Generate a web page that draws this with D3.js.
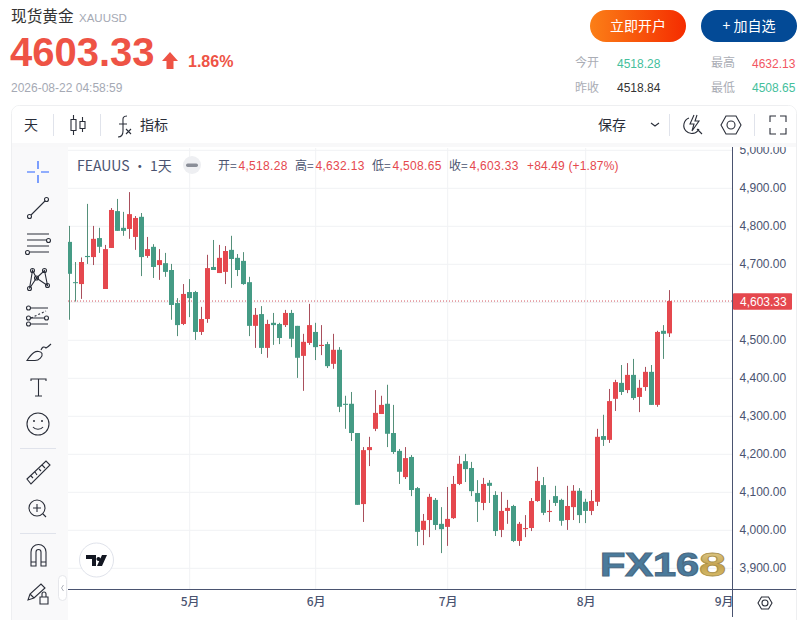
<!DOCTYPE html>
<html>
<head>
<meta charset="utf-8">
<script src="https://cdn.jsdelivr.net/npm/d3@7"></script>
<style>
  html, body { margin: 0; padding: 0; background: #fff; }
  svg { display: block; }
  text { font-family: "Liberation Sans", "Noto Sans CJK SC", sans-serif; }
  .cjk { font-family: "Noto Sans CJK SC", sans-serif; }
  .icon { fill: none; stroke: #2a2e39; stroke-width: 1.1; }
</style>
</head>
<body>
<script>
// daily candles
var opens = [4759,4653,4648,4722,4719,4769,4635,4743,4840,4796,4793,4772,4825,4722,4746,4698,4703,4685,4598,4543,
  4627,4627,4522,4556,4693,4677,4680,4738,4717,4709,4653,4538,4569,4480,4546,4543,4540,4572,4538,4459,
  4493,4522,4485,4490,4438,4475,4333,4333,4256,4069,4211,4267,4306,4333,4256,4209,4140,4193,4111,4001,
  4027,4080,4017,4009,4032,4122,4182,4164,4098,4072,4125,4093,4001,4051,4064,3972,4003,4006,4077,4119,
  4048,4090,4080,4027,4061,4104,4075,4051,4075,4248,4238,4346,4388,4369,4409,4351,4377,4417,4330,4525,4518.28];
var highs = [4801,4706,4718,4859,4801,4796,4751,4848,4872,4838,4890,4827,4835,4772,4753,4740,4730,4701,4611,4648,
  4661,4630,4588,4725,4764,4751,4748,4775,4727,4732,4667,4585,4590,4554,4572,4546,4580,4580,4538,4517,
  4596,4546,4540,4496,4517,4482,4354,4364,4256,4219,4246,4369,4354,4383,4330,4214,4219,4198,4114,4043,
  4096,4085,4061,4114,4143,4196,4201,4180,4132,4138,4132,4103,4101,4080,4067,4022,4040,4085,4167,4140,
  4080,4117,4083,4117,4119,4111,4083,4106,4267,4304,4372,4396,4435,4440,4451,4396,4430,4435,4525,4540,4632.13];
var lows = [4554,4602,4609,4701,4698,4730,4635,4743,4788,4775,4767,4738,4669,4717,4664,4659,4667,4554,4511,4540,
  4561,4501,4514,4546,4685,4677,4648,4638,4669,4646,4511,4480,4464,4454,4488,4490,4535,4482,4401,4367,
  4488,4448,4461,4427,4425,4311,4267,4235,4067,4022,4169,4261,4306,4219,4201,4122,4135,4090,3959,3961,
  3982,4001,3940,3959,4030,4119,4127,4090,4022,4053,4072,3985,3982,4017,3969,3959,3982,3998,4075,4040,
  4022,4064,4012,4001,4027,4019,4019,4040,4064,4222,4230,4314,4356,4361,4343,4311,4367,4330,4325,4451,4508.65];
var closes = [4675,4652,4706,4719,4767,4746,4740,4843,4788,4788,4832,4822,4719,4740,4693,4711,4680,4593,4540,4622,
  4611,4522,4556,4690,4685,4717,4735,4714,4685,4648,4538,4567,4480,4543,4540,4506,4572,4504,4454,4496,
  4540,4482,4488,4432,4475,4325,4330,4256,4067,4211,4219,4309,4330,4254,4206,4154,4190,4106,3996,4025,
  4088,4014,4003,4030,4122,4175,4161,4103,4075,4122,4117,3998,4051,4059,3972,4017,4006,4077,4130,4046,
  4051,4072,4025,4064,4104,4040,4051,4077,4246,4238,4340,4390,4364,4409,4348,4375,4417,4330,4522,4517,4603.33];

var priceTicks = [3900,4000,4100,4200,4300,4400,4500,4600,4700,4800,4900,5000];
var monthPos = [20,41,63,86,109];
var monthLabels = ["5月","6月","7月","8月","9月"];
var lastPrice = 4603.33;

var upBody = "#e5484e", downBody = "#459b85", upWick = "#a94f5c", downWick = "#55907a";
var axisInk = "#4a5370", gridInk = "#f1f2f4";

var svg = d3.select("body").append("svg").attr("width", 807).attr("height", 620);
var defs = svg.append("defs");

var x = d3.scaleLinear().domain([0, 100]).range([69.7, 669.7]);
var y = d3.scaleLinear().domain([4500, 5000]).range([340.3, 150.3]);

function label(g, txt, px, py, size, fill, cls, anchor) {
  return g.append("text").attr("x", px).attr("y", py).attr("font-size", size).attr("fill", fill)
    .attr("class", cls || null).attr("text-anchor", anchor || "start").text(txt);
}

// page header
var head = svg.append("g");
label(head, "现货黄金", 11, 22, 15.7, "#333", "cjk");
label(head, "XAUUSD", 79, 22, 11.5, "#a5a9b4");
label(head, "4603.33", 10, 66, 40, "#ee5345").attr("font-weight", "bold");
head.append("path").attr("d", "M170 52 L178 61 L173.5 61 L173.5 69 L166.5 69 L166.5 61 L162 61 Z").attr("fill", "#ee5345");
label(head, "1.86%", 188, 67, 16, "#ee5345").attr("font-weight", "bold");
label(head, "2026-08-22 04:58:59", 11, 92, 12, "#a5a9b4");

var grad = defs.append("linearGradient").attr("id", "openBtn");
grad.append("stop").attr("offset", "0").attr("stop-color", "#fb7f17");
grad.append("stop").attr("offset", "1").attr("stop-color", "#f52c00");
head.append("rect").attr("x", 590).attr("y", 10).attr("width", 96).attr("height", 32).attr("rx", 16).attr("fill", "url(#openBtn)");
head.append("rect").attr("x", 701).attr("y", 10).attr("width", 96).attr("height", 32).attr("rx", 16).attr("fill", "#034a96");
label(head, "立即开户", 638, 31, 14, "#fff", "cjk", "middle");
label(head, "+ 加自选", 749, 31, 14, "#fff", "cjk", "middle");

label(head, "今开", 575, 67, 12, "#aaadb5", "cjk");
label(head, "昨收", 575, 92, 12, "#aaadb5", "cjk");
label(head, "最高", 711, 67, 12, "#aaadb5", "cjk");
label(head, "最低", 711, 92, 12, "#aaadb5", "cjk");
label(head, "4518.28", 617, 68, 12, "#45c09c");
label(head, "4518.84", 617, 92, 12, "#333");
label(head, "4632.13", 752, 68, 12, "#f25561");
label(head, "4508.65", 752, 92, 12, "#45c09c");

// card
svg.append("rect").attr("x", 11.5).attr("y", 105.5).attr("width", 785).attr("height", 530)
  .attr("rx", 8).attr("fill", "#fff").attr("stroke", "#eeeff1");

// grid
var grid = svg.append("g");
grid.selectAll(".h").data(priceTicks).join("line").attr("class", "h")
  .attr("x1", 68).attr("x2", 732).attr("y1", function(d){ return y(d); }).attr("y2", function(d){ return y(d); })
  .attr("stroke", gridInk);
grid.selectAll(".v").data(monthPos.slice(0, 4)).join("line").attr("class", "v")
  .attr("x1", function(d){ return x(d); }).attr("x2", function(d){ return x(d); })
  .attr("y1", 148).attr("y2", 589).attr("stroke", gridInk);

// watermark sits under the candles
var wm = defs.append("linearGradient").attr("id", "gold").attr("x1", 0).attr("y1", 0).attr("x2", 0).attr("y2", 1);
wm.append("stop").attr("offset", "0").attr("stop-color", "#e8d9a0");
wm.append("stop").attr("offset", "0.55").attr("stop-color", "#c4a24e");
wm.append("stop").attr("offset", "1").attr("stop-color", "#e0c878");
var mark = svg.append("g").attr("font-weight", "bold").attr("font-size", 34);
mark.append("text").attr("x", 600).attr("y", 576).attr("textLength", 99).attr("lengthAdjust", "spacingAndGlyphs")
  .attr("fill", "#4a7b9c").attr("stroke", "#4a6a84").attr("stroke-width", 1.2).style("font-family", "'Liberation Sans'").text("FX16");
mark.append("text").attr("x", 699).attr("y", 576).attr("textLength", 27).attr("lengthAdjust", "spacingAndGlyphs")
  .attr("fill", "url(#gold)").attr("stroke", "#a98f4a").attr("stroke-width", 0.8).style("font-family", "'Liberation Sans'").text("8");

// last price line
svg.append("line").attr("x1", 68).attr("x2", 732).attr("y1", y(lastPrice)).attr("y2", y(lastPrice))
  .attr("stroke", "#d0525c").attr("stroke-dasharray", "1,2");

// candles
var candles = svg.append("g").selectAll("g").data(d3.range(opens.length)).join("g");
candles.append("line")
  .attr("x1", function(i){ return Math.round(x(i)) - 0.5; })
  .attr("x2", function(i){ return Math.round(x(i)) - 0.5; })
  .attr("y1", function(i){ return y(highs[i]); })
  .attr("y2", function(i){ return y(lows[i]); })
  .attr("stroke", function(i){ return closes[i] >= opens[i] ? upWick : downWick; });
candles.append("rect")
  .attr("x", function(i){ return Math.round(x(i)) - 3; })
  .attr("width", 5)
  .attr("y", function(i){ return y(Math.max(opens[i], closes[i])); })
  .attr("height", function(i){ return Math.max(1, y(Math.min(opens[i], closes[i])) - y(Math.max(opens[i], closes[i]))); })
  .attr("fill", function(i){ return closes[i] >= opens[i] ? upBody : downBody; });

// axes
var yAxis = svg.append("g").attr("transform", "translate(732.5,-1)")
  .call(d3.axisRight(y).tickValues(priceTicks).tickSize(0).tickPadding(7).tickFormat(d3.format(",.2f")));
yAxis.select(".domain").remove();
yAxis.selectAll("text").attr("font-size", 12).attr("fill", axisInk).style("font-family", "'Liberation Sans'");

var xAxis = svg.append("g").attr("transform", "translate(0,589.5)")
  .call(d3.axisBottom(x).tickValues(monthPos).tickSize(0).tickPadding(8).tickFormat(function(d, i){ return monthLabels[i]; }));
xAxis.select(".domain").remove();
xAxis.selectAll("text").attr("font-size", 12).attr("font-weight", 500).attr("fill", axisInk)
  .style("font-family", "'Noto Sans CJK SC'");

svg.append("line").attr("x1", 68).attr("x2", 796).attr("y1", 589.5).attr("y2", 589.5).attr("stroke", axisInk);
svg.append("line").attr("x1", 732.5).attr("x2", 732.5).attr("y1", 146).attr("y2", 617).attr("stroke", axisInk);

// panels on top of the plot: grey band, toolbar, left strip
svg.append("rect").attr("x", 12).attr("y", 143).attr("width", 784).attr("height", 4).attr("fill", "#f8f8f9");
svg.append("rect").attr("x", 12).attr("y", 106).attr("width", 784).attr("height", 37).attr("rx", 7).attr("fill", "#fff");
svg.append("rect").attr("x", 12).attr("y", 147).attr("width", 56).attr("height", 473).attr("fill", "#f9f9fa");

svg.append("rect").attr("x", 733).attr("y", 293.3).attr("width", 59).attr("height", 16.5).attr("rx", 1).attr("fill", upBody);
label(svg, d3.format(",.2f")(lastPrice), 740, 305.5, 12, "#fff");

// legend row
var legend = svg.append("g");
label(legend, "FEAUUS · 1天", 77, 171, 14, axisInk, "cjk");
legend.append("circle").attr("cx", 192).attr("cy", 165).attr("r", 9).attr("fill", "#eeeff2");
legend.append("rect").attr("x", 186).attr("y", 163.5).attr("width", 12).attr("height", 3.5).attr("rx", 1.7).attr("fill", "#8a8e98");
var ohlcNames = ["开=", "高=", "低=", "收="];
var ohlcVals = [opens[100], highs[100], lows[100], closes[100]];
var ohlcX = [218, 295, 372, 449];
ohlcNames.forEach(function(n, i) {
  label(legend, n, ohlcX[i], 170, 12, axisInk, "cjk");
  label(legend, d3.format(",.2f")(ohlcVals[i]), ohlcX[i] + 20.5, 170, 12, upBody).attr("letter-spacing", 0.3);
});
label(legend, "+84.49 (+1.87%)", 527, 170, 12, upBody).attr("letter-spacing", 0.15);

// toolbar icons
var bar = svg.append("g");
label(bar, "天", 24, 130, 14, "#2a2e39", "cjk");
[53, 100, 669, 754].forEach(function(px) {
  bar.append("line").attr("x1", px + 0.5).attr("x2", px + 0.5).attr("y1", 114).attr("y2", 136).attr("stroke", "#e0e3eb");
});
function icon(g, d, sw) {
  return g.append("path").attr("class", "icon").attr("d", d).attr("stroke-width", sw || 1.1);
}
icon(bar, "M73.500 115V119.500M73.500 130.500V135M71 119.500h5v11h-5zM82.500 117V121.500M82.500 128.500V132M80 121.500h5v7h-5z", 1.1);
icon(bar, "M127 116c-5 0-4 3-4 7v8c0 4-1 6-5 6M119 124h8");
icon(bar, "M126 129l5 5M131 129l-5 5", 1.2);
label(bar, "指标", 140, 130, 14, "#2a2e39", "cjk");
label(bar, "保存", 598, 130, 14, "#2a2e39", "cjk");
icon(bar, "M651 123l4 3 4-3");
icon(bar, "M689 118a8 8 0 1 0 10 11M694 115l-4 9h4l-2 7 7-10h-4l2-6M697 129l5 5");
icon(bar, "M721 125l5-9h10l5 9-5 9h-10zM735 125a4 4 0 1 1-8 0a4 4 0 1 1 8 0");
icon(bar, "M770 122v-6h6M786 122v-6h-6M770 128v6h6M786 128v6h-6", 1.4);

var side = svg.append("g");
// crosshair
side.append("path").attr("d", "M38 161v8M38 175v8M27 172h8M41 172h8").attr("stroke", "#2962ff").attr("fill", "none").attr("stroke-width", 1.2);
// trend line
icon(side, "M31 215l14-14");
side.append("circle").attr("class", "icon").attr("cx", 29.500).attr("cy", 216.500).attr("r", 2);
side.append("circle").attr("class", "icon").attr("cx", 46.500).attr("cy", 199.500).attr("r", 2);
// parallel lines
icon(side, "M27 234h22M27 240h20M27 246h22M30 252h19", 1.2);
side.append("circle").attr("class", "icon").attr("cx", 48.500).attr("cy", 240.500).attr("r", 2);
side.append("circle").attr("class", "icon").attr("cx", 27.500).attr("cy", 252.500).attr("r", 2);
// pattern
icon(side, "M29.500 288.500l3-18 4 7.500 8-7.500 3 15-11-7.500z", 1);
[[29.500,288.500],[47.500,285.500],[32.500,270.500],[44.500,270.500],[36.500,278]].forEach(function(p) {
  side.append("circle").attr("class", "icon").attr("cx", p[0]).attr("cy", p[1]).attr("r", 2).attr("fill", "#f9f9fa");
});
// fib
icon(side, "M31 308h17M31 318h14M31 324h17");
icon(side, "M31 318l15-7").attr("stroke-dasharray", "2,2");
[[28.500,308],[28.500,318],[28.500,324],[46.500,318]].forEach(function(p) {
  side.append("circle").attr("class", "icon").attr("cx", p[0]).attr("cy", p[1]).attr("r", 2);
});
// brush
icon(side, "M27 360.500h8c4 0 8-4 7-7-1-2-5-3-8-1-3 2-5 5-7 8zM41 350c1-3 3-4 5-2 2-1 4-3 5-4");
// text
icon(side, "M31 381v-2h15v2M38.500 379v17M35 396h7", 1.2);
// emoji
icon(side, "M49 424a11 11 0 1 1-22 0a11 11 0 1 1 22 0M33 427c2 3 8 3 10 0");
side.append("circle").attr("cx", 34).attr("cy", 421).attr("r", 1).attr("fill", "#2a2e39");
side.append("circle").attr("cx", 42).attr("cy", 421).attr("r", 1).attr("fill", "#2a2e39");
// separators
[448, 533].forEach(function(py) {
  side.append("line").attr("x1", 20).attr("x2", 56).attr("y1", py + 0.5).attr("y2", py + 0.5).attr("stroke", "#e0e3eb");
});
// ruler
icon(side, "M27 479l19-18 4 4-19 19zM31 476l2 2M35 472l2 3M39 469l2 2M42 465l3 3");
// zoom
icon(side, "M45 508a8 8 0 1 1-16 0a8 8 0 1 1 16 0M43 514l3 3M33 508h8M37 504v8", 1.2);
// magnet
icon(side, "M31 566v-14a7.500 7.500 0 0 1 15 0v14h-5v-14a2.500 2.500 0 0 0-5 0v14zM31 562h5M41 562h5", 1.2);
// pencil lock
icon(side, "M28 600l2-6 11-10 4 4-11 10zM30 594l4 4");
icon(side, "M40 597h8v7h-8zM42 597v-3a2 2 0 0 1 4 0v3");

// handle
svg.append("rect").attr("x", 58.500).attr("y", 575.500).attr("width", 8).attr("height", 25).attr("rx", 4)
  .attr("fill", "#fff").attr("stroke", "#e6e7eb");
svg.append("path").attr("d", "M63.500 585l-2 3 2 3").attr("fill", "none").attr("stroke", "#b0b3bb");

// tv badge
var badge = svg.append("g");
badge.append("circle").attr("cx", 96.500).attr("cy", 560).attr("r", 17).attr("fill", "#fff").attr("stroke", "#e0e3eb");
badge.append("path").attr("d", "M86 555h10v11h-4v-7h-6zM98.500 557a2 2 0 1 1-.1 0zM102 555h5l-5 11h-5z").attr("fill", "#131722");

// bottom right settings
icon(svg, "M758 603l3.500-6h7l3.500 6-3.500 6h-7zM768 603a3 3 0 1 1-6 0a3 3 0 1 1 6 0");
</script>
</body>
</html>
